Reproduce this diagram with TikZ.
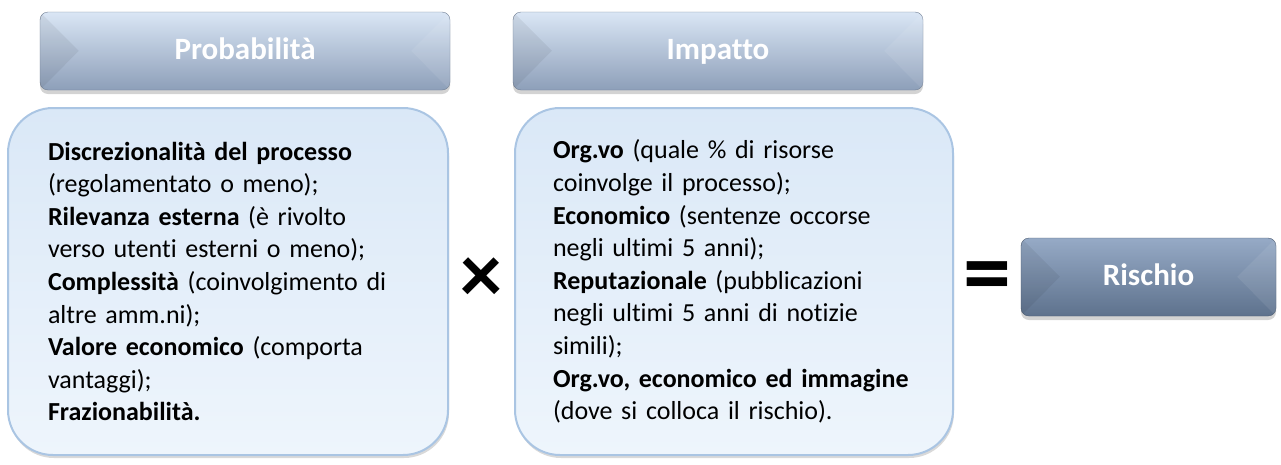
\documentclass[tikz,border=0pt]{standalone}
\usepackage{fontspec}
\setmainfont{Carlito}[Ligatures=NoCommon]
\usetikzlibrary{shadows}
\definecolor{headtop}{RGB}{218,230,245}
\definecolor{headbot}{RGB}{141,159,185}
\definecolor{risktop}{RGB}{150,170,198}
\definecolor{riskbot}{RGB}{94,114,141}
\definecolor{boxtop}{RGB}{218,232,247}
\definecolor{boxbot}{RGB}{238,245,252}
\definecolor{boxline}{RGB}{170,197,227}
\tikzset{
  headbox/.style={rounded corners=8pt, top color=headtop, bottom color=headbot,
    draw=headbot!80!black, line width=.4pt, minimum height=78pt, text=white,
    text height=21pt, text depth=5pt,
    font=\fontsize{31}{34}\selectfont\bfseries,
    drop shadow={shadow xshift=0pt, shadow yshift=-4pt, opacity=.35}},
  riskbox/.style={headbox, top color=risktop, bottom color=riskbot, draw=riskbot!80!black},
  bodybox/.style={rounded corners=45pt, top color=boxtop, bottom color=boxbot,
    draw=boxline, line width=2pt, minimum height=347pt, inner xsep=40pt,
    align=left, font=\fontsize{26}{32.6}\selectfont,
    drop shadow={shadow xshift=1pt, shadow yshift=-3pt, opacity=.3}},
  opsign/.style={font=\fontsize{84}{84}\selectfont\bfseries, inner sep=0pt}
}
% facets of the bevelled header buttons
\newcommand{\bevel}[1]{
  \begin{scope}
    \clip[rounded corners=8pt] (#1.south west) rectangle (#1.north east);
    \fill[black, opacity=.06] (#1.north west) -- ++(39,39) -- (#1.south west) -- cycle;
    \fill[white, opacity=.08] (#1.north east) -- ++(-39,39) -- (#1.south east) -- cycle;
  \end{scope}
}
\begin{document}
\begin{tikzpicture}[x=1pt, y=-1pt]
\useasboundingbox (0,0) rectangle (1281,464);
\node[headbox, minimum width=410pt] (prob) at (245,51) {Probabilità};
\bevel{prob}
\node[headbox, minimum width=410pt] (imp) at (718,51) {Impatto};
\bevel{imp}
\node[bodybox, minimum width=440pt, text width=360pt] (probtxt) at (228,281.5) {\textbf{Discrezionalità del processo}\\(regolamentato o meno);\\\textbf{Rilevanza esterna} (è rivolto\\verso utenti esterni o meno);\\\textbf{Complessità} (coinvolgimento di\\altre amm.ni);\\\textbf{Valore economico} (comporta\\vantaggi);\\\textbf{Frazionabilità.}};
\node[bodybox, minimum width=438pt, text width=362pt, inner xsep=38pt] (imptxt) at (734,281.5) {\textbf{Org.vo} (quale \% di risorse\\coinvolge il processo);\\\textbf{Economico} (sentenze occorse\\negli ultimi 5 anni);\\\textbf{Reputazionale} (pubblicazioni\\negli ultimi 5 anni di notizie\\simili);\\\textbf{Org.vo, economico ed immagine}\\(dove si colloca il rischio).};
\node[opsign] (times) at (481,280) {×};
\node[opsign, font=\fontsize{96}{96}\selectfont\bfseries] (equals) at (987,283) {=};
\node[riskbox, minimum width=255pt] (risk) at (1148.5,277) {Rischio};
\bevel{risk}
\end{tikzpicture}
\end{document}
